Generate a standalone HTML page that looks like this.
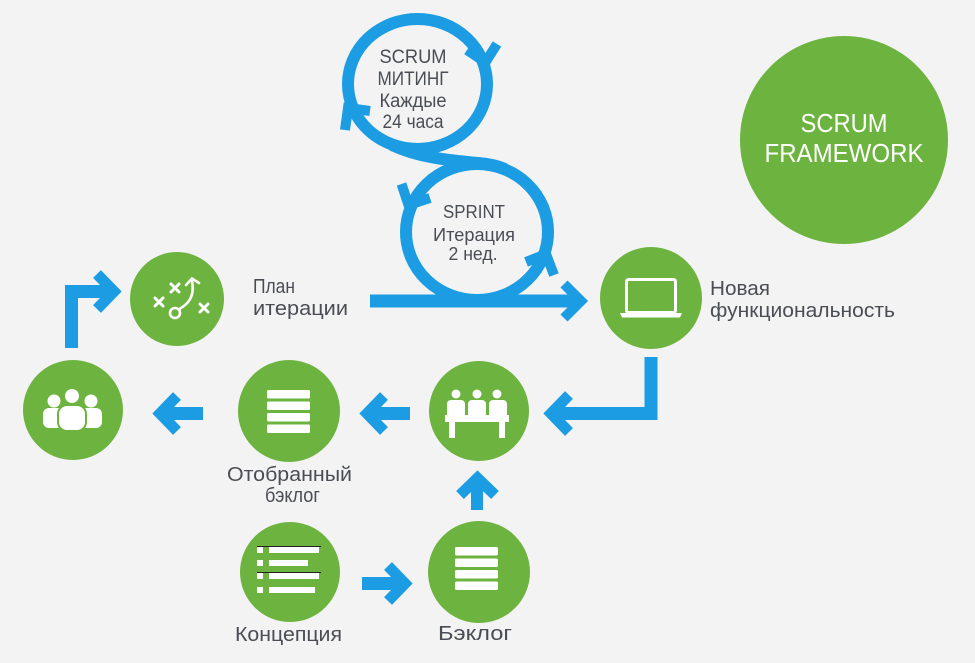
<!DOCTYPE html>
<html><head><meta charset="utf-8"><style>
html,body{margin:0;padding:0;background:#f3f3f3;}
svg{display:block;}
text{font-family:"Liberation Sans",sans-serif;}
</style></head><body>
<svg width="975" height="663" viewBox="0 0 975 663" xmlns="http://www.w3.org/2000/svg">
<rect width="975" height="663" fill="#f3f3f3"/>

<!-- big circle -->
<circle cx="844" cy="140" r="104" fill="#6db33f"/>
<text x="844" y="132" fill="#fff" font-size="26" text-anchor="middle" textLength="87" lengthAdjust="spacingAndGlyphs">SCRUM</text>
<text x="844" y="162" fill="#fff" font-size="26" text-anchor="middle" textLength="159" lengthAdjust="spacingAndGlyphs">FRAMEWORK</text>

<!-- blue loops -->
<g fill="none" stroke="#1c9de3">
  <ellipse cx="417.5" cy="84" rx="69.5" ry="65" stroke-width="12"/>
  <ellipse cx="477" cy="232" rx="71" ry="68" stroke-width="12"/>
  <path d="M392,145 C418,157 445,160 478,163 C490,164 498,166 505,169" stroke-width="12"/>
  <path d="M370,301 H576" stroke-width="13"/>
  <g stroke-width="10" stroke-linejoin="miter" stroke-miterlimit="10">
    <polyline points="467,50 485.4,62.4 497,44"/>
    <polyline points="370,111 348,108 345,130"/>
    <polyline points="430,198 408.5,205 401.5,184"/>
    <polyline points="526,262 546,254 554,275"/>
    <polyline points="564,284 581,301 564,318"/>
  </g>
</g>

<!-- loop texts -->
<g fill="#4a4d54" text-anchor="middle">
  <text x="413" y="63" font-size="19" textLength="67" lengthAdjust="spacingAndGlyphs">SCRUM</text>
  <text x="413" y="85" font-size="19" textLength="71" lengthAdjust="spacingAndGlyphs">МИТИНГ</text>
  <text x="413" y="107" font-size="19" textLength="67" lengthAdjust="spacingAndGlyphs">Каждые</text>
  <text x="413" y="128" font-size="19" textLength="61" lengthAdjust="spacingAndGlyphs">24 часа</text>
  <text x="474" y="218" font-size="18" textLength="62" lengthAdjust="spacingAndGlyphs">SPRINT</text>
  <text x="474" y="241" font-size="18" textLength="82" lengthAdjust="spacingAndGlyphs">Итерация</text>
  <text x="473" y="260" font-size="18" textLength="49" lengthAdjust="spacingAndGlyphs">2 нед.</text>
</g>

<!-- blue arrows -->
<g fill="none" stroke="#1c9de3" stroke-linejoin="miter" stroke-miterlimit="10">
  <path d="M71.5,348 V291.5 H110" stroke-width="13"/>
  <polyline points="97,274 114,291.5 97,309" stroke-width="11"/>
  <path d="M203,413.5 H165" stroke-width="13"/>
  <polyline points="177,396 160,413.5 177,431" stroke-width="11"/>
  <path d="M410,413.5 H372" stroke-width="13"/>
  <polyline points="384,396 367,413.5 384,431" stroke-width="11"/>
  <path d="M651,357 V413.5 H556" stroke-width="13"/>
  <polyline points="569,395 551,413.5 569,432" stroke-width="11"/>
  <path d="M477,510 V482" stroke-width="12"/>
  <polyline points="460,495 477.5,478 495,495" stroke-width="11"/>
  <path d="M362,583.5 H400" stroke-width="13"/>
  <polyline points="388,566 405,583.5 388,601" stroke-width="11"/>
</g>

<!-- green circles -->
<g fill="#6db33f">
  <circle cx="177" cy="299" r="47"/>
  <circle cx="73" cy="410" r="50"/>
  <circle cx="289" cy="411" r="51"/>
  <circle cx="479" cy="411" r="50"/>
  <circle cx="651" cy="298" r="51"/>
  <circle cx="290" cy="572" r="50"/>
  <circle cx="479" cy="572" r="51"/>
</g>

<!-- plan icon -->
<g stroke="#fff" stroke-width="3" fill="none" stroke-linecap="round">
  <path d="M155,298 L163,306 M163,298 L155,306"/>
  <path d="M171,284 L179,292 M179,284 L171,292"/>
  <path d="M200,304 L208,312 M208,304 L200,312"/>
  <circle cx="175" cy="313" r="5" stroke-width="2.6"/>
  <path d="M179.5,309 C188,304 195,297 192,281" stroke-width="2.6"/>
  <polyline points="186,285 192,278.5 199,283" stroke-width="2.6" stroke-linejoin="miter"/>
</g>

<!-- people icon -->
<g fill="#fff">
  <circle cx="54" cy="401" r="6.5"/>
  <rect x="43" y="408" width="22" height="20" rx="6"/>
  <circle cx="91" cy="401" r="6.5"/>
  <rect x="80" y="408" width="22" height="20" rx="6"/>
  <circle cx="72" cy="396" r="8" stroke="#6db33f" stroke-width="2"/>
  <rect x="58" y="405" width="28" height="26" rx="9" stroke="#6db33f" stroke-width="2"/>
</g>

<!-- selected backlog list icon -->
<g fill="#fff">
  <rect x="267" y="390" width="43" height="8.5" rx="1.5"/>
  <rect x="267" y="401.5" width="43" height="8.5" rx="1.5"/>
  <rect x="267" y="413" width="43" height="8.5" rx="1.5"/>
  <rect x="267" y="424.5" width="43" height="8.5" rx="1.5"/>
</g>

<!-- backlog list icon -->
<g fill="#fff">
  <rect x="455" y="547" width="43" height="8.5" rx="1.5"/>
  <rect x="455" y="558.5" width="43" height="8.5" rx="1.5"/>
  <rect x="455" y="570" width="43" height="8.5" rx="1.5"/>
  <rect x="455" y="581.5" width="43" height="8.5" rx="1.5"/>
</g>

<!-- concept icon -->
<g fill="#fff">
  <rect x="257" y="547" width="6" height="6"/>
  <rect x="269" y="547" width="50" height="6"/>
  <rect x="257" y="560" width="6" height="6"/>
  <rect x="269" y="560" width="39" height="6"/>
  <rect x="257" y="573" width="6" height="6"/>
  <rect x="269" y="573" width="50" height="6"/>
  <rect x="257" y="587" width="6" height="6"/>
  <rect x="269" y="587" width="46" height="6"/>
</g>
<g stroke="#222" stroke-width="1">
  <line x1="257" y1="546.5" x2="321" y2="546.5"/>
  <line x1="257" y1="572.5" x2="321" y2="572.5"/>
</g>

<!-- meeting icon -->
<g fill="#fff">
  <circle cx="456" cy="394" r="4.5"/>
  <circle cx="477" cy="394" r="4.5"/>
  <circle cx="497" cy="394" r="4.5"/>
  <rect x="447" y="400" width="18" height="18" rx="4"/>
  <rect x="468" y="400" width="18" height="18" rx="4"/>
  <rect x="489" y="400" width="18" height="18" rx="4"/>
  <rect x="445" y="415" width="64" height="7"/>
  <rect x="449" y="421" width="6" height="17"/>
  <rect x="499" y="421" width="6" height="17"/>
</g>

<!-- laptop icon -->
<g>
  <rect x="626.5" y="279.5" width="49" height="33" rx="2" fill="none" stroke="#fff" stroke-width="3"/>
  <polygon points="620,313 682,313 680,317.5 622,317.5" fill="#fff"/>
</g>

<!-- labels -->
<g fill="#4a4d54" font-size="20">
  <text x="253" y="293" textLength="42" lengthAdjust="spacingAndGlyphs">План</text>
  <text x="253" y="315" textLength="95" lengthAdjust="spacingAndGlyphs">итерации</text>
  <text x="710" y="295" textLength="60" lengthAdjust="spacingAndGlyphs">Новая</text>
  <text x="710" y="317" textLength="185" lengthAdjust="spacingAndGlyphs">функциональность</text>
  <text x="289.5" y="481" text-anchor="middle" textLength="125" lengthAdjust="spacingAndGlyphs">Отобранный</text>
  <text x="292.5" y="502" text-anchor="middle" textLength="55" lengthAdjust="spacingAndGlyphs">бэклог</text>
  <text x="288.5" y="641" text-anchor="middle" textLength="107" lengthAdjust="spacingAndGlyphs">Концепция</text>
  <text x="475" y="640" text-anchor="middle" textLength="74" lengthAdjust="spacingAndGlyphs">Бэклог</text>
</g>
</svg>
</body></html>
